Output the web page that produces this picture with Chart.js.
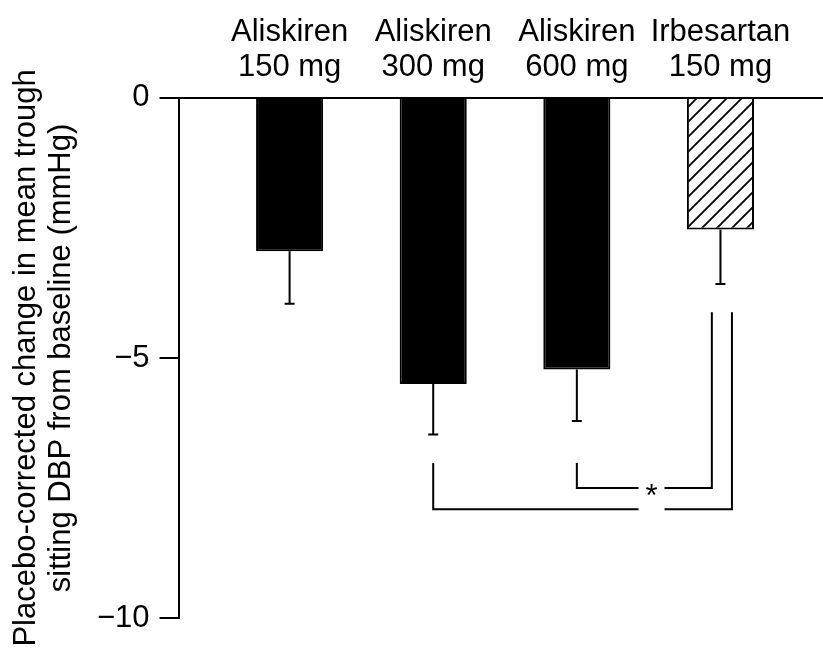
<!DOCTYPE html>
<html>
<head>
<meta charset="utf-8">
<script src="https://cdn.jsdelivr.net/npm/chart.js@4/dist/chart.umd.min.js"></script>
<style>
  html, body { margin: 0; padding: 0; background: #fff; }
  #wrap { width: 823px; height: 654px; }
</style>
</head>
<body>
<div id="wrap"><canvas id="dbpChart"></canvas></div>
<script>
// treatment groups (shown on two lines above the bars)
const categories = [
    ['Aliskiren', '150 mg'],
    ['Aliskiren', '300 mg'],
    ['Aliskiren', '600 mg'],
    ['Irbesartan', '150 mg']
];
// placebo-corrected change in mean trough sitting DBP (mmHg)
const changes = [-2.95, -5.5, -5.22, -2.53];
// standard error, drawn downward only
const errors = [1.01, 0.97, 0.99, 1.05];
const hatched = [false, false, false, true];
const yTicks = [0, -5, -10];
const yTitle = ['Placebo-corrected change in mean trough', 'sitting DBP from baseline (mmHg)'];

// significance brackets, in data units (x = group index, y = mmHg)
const bracketFrom = [1, 2];
const bracketTo = [3.08, 2.94];
const bracketLevel = [-7.91, -7.5];
const bracketStart = -7.02;
const bracketEnd = -4.12;
const starX = 2.52;
const starLabel = '*';

const FONT = '"Liberation Sans", Arial, Helvetica, sans-serif';

function makeHatch() {
    const c = document.createElement('canvas');
    c.width = 15;
    c.height = 15;
    const g = c.getContext('2d');
    g.fillStyle = '#fff';
    g.fillRect(0, 0, 15, 15);
    g.strokeStyle = '#000';
    g.lineWidth = 1.8;
    g.beginPath();
    g.moveTo(-2, 17); g.lineTo(17, -2);
    g.moveTo(-2, 2); g.lineTo(2, -2);
    g.moveTo(13, 17); g.lineTo(17, 13);
    g.stroke();
    return g.createPattern(c, 'repeat');
}

const hatch = makeHatch();

const errorBars = {
    id: 'errorBars',
    afterDatasetsDraw(chart) {
        const ctx = chart.ctx;
        const y = chart.scales.y;
        const meta = chart.getDatasetMeta(0);
        ctx.save();
        ctx.strokeStyle = '#000';
        ctx.lineWidth = 2;
        meta.data.forEach((bar, i) => {
            const top = y.getPixelForValue(changes[i]);
            const end = y.getPixelForValue(changes[i] - errors[i]);
            ctx.beginPath();
            ctx.moveTo(bar.x, top);
            ctx.lineTo(bar.x, end);
            ctx.moveTo(bar.x - 5, end);
            ctx.lineTo(bar.x + 5, end);
            ctx.stroke();
        });
        ctx.restore();
    }
};

const brackets = {
    id: 'brackets',
    afterDatasetsDraw(chart) {
        const ctx = chart.ctx;
        const x = chart.scales.x;
        const y = chart.scales.y;
        const gapX = x.getPixelForValue(starX);
        const gap = 13;
        ctx.save();
        ctx.strokeStyle = '#000';
        ctx.lineWidth = 2;
        bracketFrom.forEach((from, i) => {
            const x1 = x.getPixelForValue(from);
            const x2 = x.getPixelForValue(bracketTo[i]);
            const yl = y.getPixelForValue(bracketLevel[i]);
            ctx.beginPath();
            ctx.moveTo(x1, y.getPixelForValue(bracketStart));
            ctx.lineTo(x1, yl);
            ctx.lineTo(gapX - gap, yl);
            ctx.moveTo(gapX + gap, yl);
            ctx.lineTo(x2, yl);
            ctx.lineTo(x2, y.getPixelForValue(bracketEnd));
            ctx.stroke();
        });
        ctx.fillStyle = '#000';
        ctx.font = '31px ' + FONT;
        ctx.textAlign = 'center';
        ctx.textBaseline = 'alphabetic';
        ctx.fillText(starLabel, gapX, y.getPixelForValue(bracketLevel[1]) + 18);
        ctx.restore();
    }
};

new Chart(document.getElementById('dbpChart'), {
    type: 'bar',
    data: {
        datasets: [{
            data: changes.map((v, i) => ({ x: i, y: v })),
            backgroundColor: hatched.map(h => h ? hatch : '#000'),
            borderColor: '#000',
            borderWidth: 2,
            barPercentage: 0.467,
            categoryPercentage: 1
        }]
    },
    options: {
        responsive: true,
        maintainAspectRatio: false,
        animation: false,
        layout: { padding: { left: 4, top: 2, right: 0, bottom: 36 } },
        plugins: {
            legend: { display: false },
            tooltip: { enabled: false }
        },
        scales: {
            x: {
                type: 'linear',
                position: 'top',
                offset: false,
                min: -0.7735,
                max: 3.714,
                afterBuildTicks: axis => {
                    axis.ticks = categories.map((c, i) => ({ value: i }));
                },
                grid: { offset: false, drawOnChartArea: false, drawTicks: false },
                border: { display: true, color: '#000', width: 2 },
                ticks: {
                    autoSkip: false,
                    maxRotation: 0,
                    padding: 12,
                    color: '#000',
                    font: { family: FONT, size: 31, lineHeight: 1.16 },
                    callback: value => categories[value]
                }
            },
            y: {
                min: -10,
                max: 0,
                afterBuildTicks: axis => {
                    axis.ticks = yTicks.map(v => ({ value: v }));
                },
                grid: {
                    drawOnChartArea: false,
                    drawTicks: true,
                    tickLength: 19,
                    color: '#000',
                    lineWidth: 2
                },
                border: { display: true, color: '#000', width: 2 },
                ticks: {
                    padding: 10,
                    color: '#000',
                    font: { family: FONT, size: 31 },
                    callback: v => v === 0 ? '0' : '\u2212' + Math.abs(v)
                },
                title: {
                    display: true,
                    text: yTitle,
                    color: '#000',
                    font: { family: FONT, size: 31, lineHeight: 1.16 },
                    padding: { top: 4, bottom: 7 }
                }
            }
        }
    },
    plugins: [errorBars, brackets]
});
</script>
</body>
</html>
